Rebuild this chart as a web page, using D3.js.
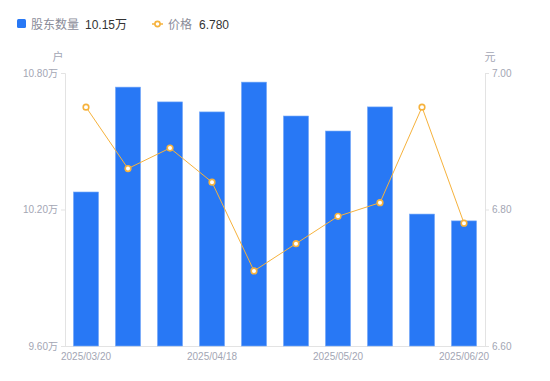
<!DOCTYPE html>
<html><head><meta charset="utf-8">
<script src="https://cdn.jsdelivr.net/npm/d3@7"></script>
<style>body{margin:0;background:#fff}svg{display:block;font-family:"Liberation Sans","Noto Sans CJK SC",sans-serif}</style>
</head><body><div id="chart"></div>
<script>
const dates = ["2025/03/20","2025/03/31","2025/04/10","2025/04/18","2025/04/30","2025/05/09","2025/05/20","2025/05/30","2025/06/10","2025/06/20"];
const holders = [10.277,10.738,10.673,10.629,10.760,10.611,10.545,10.651,10.180,10.150];
const prices = [6.95,6.86,6.89,6.84,6.71,6.75,6.79,6.81,6.95,6.78];
const leftTicks = [9.6,10.2,10.8];
const rightTicks = [6.6,6.8,7.0];
const shownDates = ["2025/03/20","2025/04/18","2025/05/20","2025/06/20"];

const W=550,H=381, m={l:65,r:65,t:73,b:35};
const svg=d3.select("#chart").append("svg").attr("width",W).attr("height",H);
const x=d3.scaleBand().domain(dates).range([m.l,W-m.r]).paddingInner(0.4).paddingOuter(0.2);
const yL=d3.scaleLinear().domain([9.6,10.8]).range([H-m.b,m.t]);
const yR=d3.scaleLinear().domain([6.6,7.0]).range([H-m.b,m.t]);
const grey="#a3a6b4", axisC="#e3e3e3";

// axes
const gL=svg.append("g").attr("transform",`translate(${m.l},0)`)
 .call(d3.axisLeft(yL).tickValues(leftTicks).tickSize(4).tickPadding(3).tickFormat(d=>d.toFixed(2)+"万"));
const gR=svg.append("g").attr("transform",`translate(${W-m.r},0)`)
 .call(d3.axisRight(yR).tickValues(rightTicks).tickSize(4).tickPadding(3).tickFormat(d=>d.toFixed(2)));
const gB=svg.append("g").attr("transform",`translate(0,${H-m.b})`)
 .call(d3.axisBottom(x).tickValues(shownDates).tickSize(0).tickPadding(7));
gB.select(".domain").attr("d",`M${m.l},0.5H${W-m.r}`);
[gL,gR,gB].forEach(g=>{
  g.selectAll(".domain").attr("stroke",axisC);
  g.selectAll(".tick line").attr("stroke",axisC);
  g.selectAll("text").attr("fill",grey).attr("font-size",10).attr("font-family","Liberation Sans, Noto Sans CJK SC, sans-serif");
});

// bars
svg.append("g").selectAll("rect").data(holders).join("rect")
 .attr("x",(d,i)=>x(dates[i])).attr("width",x.bandwidth())
 .attr("y",d=>yL(d)).attr("height",d=>yL(9.6)-yL(d))
 .attr("fill","#2878f5").attr("stroke","#7eaef8").attr("stroke-width",0.6);

// line
const line=d3.line().x((d,i)=>x(dates[i])+x.bandwidth()/2).y(d=>yR(d));
svg.append("path").datum(prices).attr("d",line).attr("fill","none").attr("stroke","#f6b23c").attr("stroke-width",1);
svg.append("g").selectAll("circle").data(prices).join("circle")
 .attr("cx",(d,i)=>x(dates[i])+x.bandwidth()/2).attr("cy",d=>yR(d)).attr("r",2.8)
 .attr("fill","#fff").attr("stroke","#f6b23c").attr("stroke-width",1.6);

// unit labels
svg.append("text").attr("x",58).attr("y",61).attr("text-anchor","middle").attr("fill",grey).attr("font-size",11).text("户");
svg.append("text").attr("x",490).attr("y",61).attr("text-anchor","middle").attr("fill",grey).attr("font-size",11).text("元");

// legend
const lg=svg.append("g");
lg.append("rect").attr("x",17).attr("y",19).attr("width",9).attr("height",9).attr("rx",1.5).attr("fill","#2878f5");
lg.append("text").attr("x",31).attr("y",28.5).attr("font-size",12).attr("fill","#8a8c99").text("股东数量");
lg.append("text").attr("x",85).attr("y",28.5).attr("font-size",12).attr("fill","#333").text(d3.format(".2f")(holders[holders.length-1])+"万");
lg.append("line").attr("x1",152).attr("x2",163).attr("y1",24).attr("y2",24).attr("stroke","#f6b23c").attr("stroke-width",1.5);
lg.append("circle").attr("cx",157.5).attr("cy",24).attr("r",2.6).attr("fill","#fff").attr("stroke","#f6b23c").attr("stroke-width",1.6);
lg.append("text").attr("x",168).attr("y",28.5).attr("font-size",12).attr("fill","#8a8c99").text("价格");
lg.append("text").attr("x",199).attr("y",28.5).attr("font-size",12).attr("fill","#333").text(d3.format(".3f")(prices[prices.length-1]));
</script></body></html>
